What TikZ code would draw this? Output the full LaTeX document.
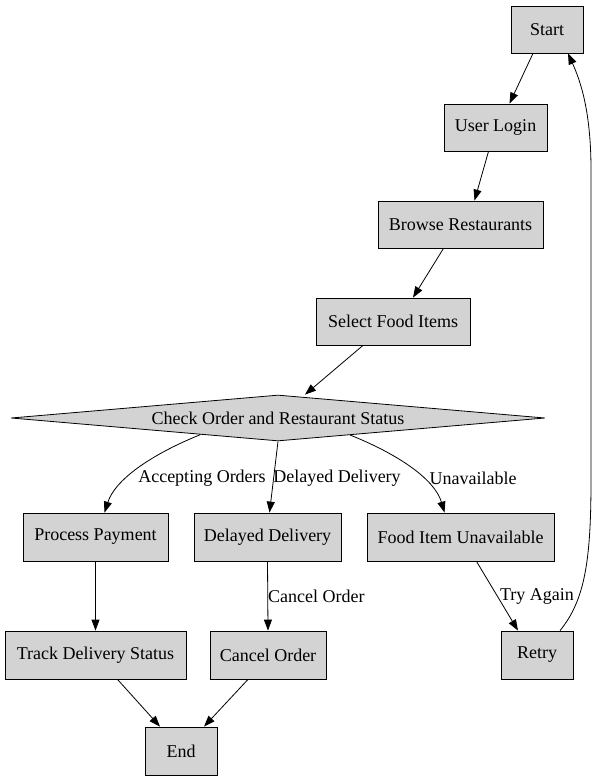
\documentclass[tikz,border=0pt]{standalone}
\usepackage{fontspec}
\setmainfont{Liberation Serif}
\usetikzlibrary{shapes.geometric,arrows.meta,calc}
\begin{document}
\begin{tikzpicture}[x=1pt,y=-1pt,
  box/.style={draw,fill=boxgray,line width=0.8pt,minimum height=47pt,inner sep=0pt,font=\fontsize{18}{20}\selectfont},
  arr/.style={-{Triangle[length=11pt,width=8pt]},line width=0.8pt},
  lbl/.style={font=\fontsize{18}{20}\selectfont,inner sep=1pt}]
\definecolor{boxgray}{HTML}{D3D3D3}
\useasboundingbox (0,0) rectangle (598,781);
\node[box,minimum width=72pt] (start) at (547,29.5) {Start};
\node[box,minimum width=103pt] (login) at (495.5,127.5) {User Login};
\node[box,minimum width=165pt] (browse) at (460.5,224.5) {Browse Restaurants};
\node[box,minimum width=154pt] (select) at (393,321.5) {Select Food Items};
\node[draw,fill=boxgray,line width=0.8pt,diamond,aspect=11.6,inner sep=0pt,minimum width=534pt,minimum height=46pt,font=\fontsize{18}{20}\selectfont] (dia) at (278,418) {Check Order and Restaurant Status};
\node[box,minimum width=145pt,minimum height=48pt] (pay) at (95.5,537) {Process Payment};
\node[box,minimum width=147pt,minimum height=48pt] (delay) at (267.5,537) {Delayed Delivery};
\node[box,minimum width=187pt,minimum height=48pt] (unav) at (460.5,537) {Food Item Unavailable};
\node[box,minimum width=181pt,minimum height=48pt] (track) at (95.5,655) {Track Delivery Status};
\node[box,minimum width=116pt,minimum height=48pt] (cancel) at (268,655) {Cancel Order};
\node[box,minimum width=72pt,minimum height=48pt] (retry) at (537,655) {Retry};
\node[box,minimum width=72pt,minimum height=48pt] (end) at (181,751) {End};

\draw[arr] ($(start.south)+(-14,0)$) -- ($(login.north)+(14,0)$);
\draw[arr] ($(login.south)+(-7,0)$) -- ($(browse.north)+(14,0)$);
\draw[arr] ($(browse.south)+(-17,0)$) -- ($(select.north)+(20,0)$);
\draw[arr] ($(select.south)+(-30,0)$) -- ($(dia.north)+(27,0)$);

\draw[arr] ($(dia.south)!0.29!(dia.west)$) .. controls (150,455) and (115,480) .. ($(pay.north)+(9,0)$);
\draw[arr] (dia.south) -- ($(delay.north)+(2,0)$);
\draw[arr] ($(dia.south)!0.27!(dia.east)$) .. controls (400,455) and (435,480) .. ($(unav.north)+(-16,0)$);
\node[lbl] (l1) at (202,478) {Accepting Orders};
\node[lbl] (l2) at (337,478) {Delayed Delivery};
\node[lbl] (l3) at (473,478) {Unavailable};

\draw[arr] (pay.south) -- (track.north);
\draw[arr] (delay.south) -- (cancel.north);
\node[lbl,anchor=west] (l4) at (267,596) {Cancel Order};
\draw[arr] ($(unav.south)+(16,0)$) -- ($(retry.north)+(-19,0)$);
\node[lbl] (l5) at (537,596) {Try Again};
\draw[arr] ($(track.south)+(22,0)$) -- ($(end.north)+(-21,0)$);
\draw[arr] ($(cancel.south)+(-20,0)$) -- ($(end.north)+(23,0)$);
\draw[arr] ($(retry.north)+(23,0)$) .. controls (585,600) and (591,560) .. (591,480)
  -- (591,170) .. controls (591,110) and (580,80) .. ($(start.south)+(21,0)$);
\end{tikzpicture}
\end{document}
